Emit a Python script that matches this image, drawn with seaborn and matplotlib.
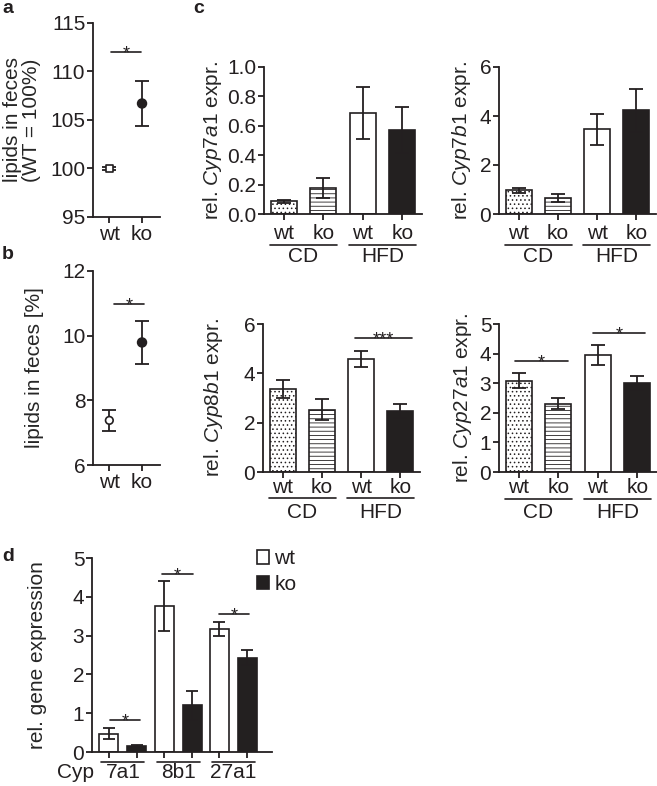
"""
Fecal lipids and Cyp gene expression, wt vs ko
"""

import pandas as pd
import seaborn as sns
import matplotlib.pyplot as plt
from matplotlib.lines import Line2D
from matplotlib.transforms import offset_copy

# a / b: fecal lipids
genotypes = ['wt', 'ko']
fecal_rel = [100.0, 106.7]
fecal_rel_err = [0.2, 2.35]
fecal_pct = [7.38, 9.79]
fecal_pct_err = [0.33, 0.67]

# c: expression per diet and genotype
conditions = ['CD wt', 'CD ko', 'HFD wt', 'HFD ko']
cond_ticklabels = ['wt', 'ko', 'wt', 'ko']
cyp7a1 = [0.086, 0.175, 0.688, 0.571]
cyp7a1_err = [0.012, 0.068, 0.176, 0.154]
cyp7b1 = [0.96, 0.64, 3.45, 4.24]
cyp7b1_err = [0.09, 0.17, 0.65, 0.88]
cyp8b1 = [3.35, 2.53, 4.57, 2.47]
cyp8b1_err = [0.36, 0.44, 0.32, 0.28]
cyp27a1 = [3.08, 2.31, 3.95, 3.0]
cyp27a1_err = [0.25, 0.18, 0.35, 0.24]

# d: gene expression
genes = ['7a1', '8b1', '27a1']
gene_wt = [0.47, 3.76, 3.16]
gene_wt_err = [0.14, 0.65, 0.18]
gene_ko = [0.155, 1.20, 2.43]
gene_ko_err = [0.035, 0.37, 0.19]

INK = '#231f20'
FS = 15
W, H = 657, 786

sns.set_style('ticks')
plt.rcParams['font.family'] = ['Liberation Sans', 'DejaVu Sans']
plt.rcParams['mathtext.fontset'] = 'custom'
plt.rcParams['mathtext.rm'] = 'Liberation Sans'
plt.rcParams['mathtext.it'] = 'Liberation Sans:italic'
plt.rcParams['hatch.linewidth'] = 0.6
plt.rcParams['axes.linewidth'] = 1.3
plt.rcParams['axes.edgecolor'] = INK
plt.rcParams['text.color'] = INK
plt.rcParams['xtick.color'] = INK
plt.rcParams['ytick.color'] = INK
plt.rcParams['xtick.major.width'] = 1.3
plt.rcParams['ytick.major.width'] = 1.3
plt.rcParams['xtick.major.size'] = 4
plt.rcParams['ytick.major.size'] = 4
plt.rcParams['ytick.major.pad'] = 1.5
plt.rcParams['xtick.labelsize'] = FS
plt.rcParams['ytick.labelsize'] = FS

fig = plt.figure(figsize=(W / 100, H / 100), dpi=100)


def add_axes(x0, x1, ytop, ybot):
    # pixel box -> figure fraction
    return fig.add_axes([x0 / W, 1 - ybot / H, (x1 - x0) / W, (ybot - ytop) / H])


def style(ax, ylabel, label_x):
    sns.despine(ax=ax)
    ax.set_xlabel('')
    ax.set_ylabel(ylabel, fontsize=FS, linespacing=1.05)
    ax.yaxis.set_label_coords(label_x, 0.5)
    ax.yaxis.label.set_va('center')


def sig(ax, x0, x1, y, text):
    ax.plot([x0, x1], [y, y], color=INK, lw=1.2, clip_on=False)
    ax.annotate(text, ((x0 + x1) / 2, y), xytext=(0, -4.5), textcoords='offset points',
                ha='center', va='baseline', fontsize=13)


def dot_panel(ax, vals, errs, wt_marker, wt_size, ylim, yticks, ylabel, label_x, sig_args):
    df = pd.DataFrame({'genotype': genotypes, 'value': vals})
    ax.errorbar(range(2), vals, yerr=errs, fmt='none', ecolor=INK,
                elinewidth=1.3, capsize=5, capthick=1.3, zorder=2)
    sns.scatterplot(data=df, x='genotype', y='value', hue='genotype', style='genotype',
                    size='genotype', sizes={'wt': wt_size, 'ko': 40},
                    palette={'wt': 'white', 'ko': INK}, markers={'wt': wt_marker, 'ko': 'o'},
                    edgecolor=INK, linewidth=1.2, legend=False, zorder=3, ax=ax)
    ax.set_xlim(-0.5, 1.55)
    ax.set_ylim(*ylim)
    ax.set_yticks(yticks)
    ax.set_xticks(range(2))
    ax.set_xticklabels(genotypes)
    ax.tick_params(axis='x', pad=1.5)
    style(ax, ylabel, label_x)
    sig(ax, *sig_args)


bar_fill = ['white', 'white', 'white', INK]
bar_hatch = ['....', '----', '', '']


def bar_panel(ax, vals, errs, ylim, yticks, gene, label_x, xpad, under):
    df = pd.DataFrame({'condition': conditions, 'value': vals})
    sns.barplot(data=df, x='condition', y='value', hue='condition', palette=bar_fill,
                width=0.66, edgecolor=INK, linewidth=1.2, errorbar=None, legend=False, ax=ax)
    for cont, h in zip(ax.containers, bar_hatch):
        for p in cont:
            p.set_hatch(h)
    ax.errorbar(range(4), vals, yerr=errs, fmt='none', ecolor=INK,
                elinewidth=1.3, capsize=5, capthick=1.3, zorder=5)
    ax.set_xlim(-0.5, 3.5)
    ax.set_ylim(*ylim)
    ax.set_yticks(yticks)
    ax.set_xticks(range(4))
    ax.set_xticklabels(cond_ticklabels)
    ax.tick_params(axis='x', pad=xpad)
    style(ax, rf'rel. $\mathit{{{gene}}}$ expr.', label_x)
    # diet group underline + name
    line_tr = offset_copy(ax.get_xaxis_transform(), fig=fig, y=-under[0], units='dots')
    text_tr = offset_copy(ax.get_xaxis_transform(), fig=fig, y=-under[1], units='dots')
    for (g0, g1), name in zip([(-0.35, 1.35), (1.65, 3.35)], ['CD', 'HFD']):
        ax.add_line(Line2D([g0, g1], [0, 0], transform=line_tr, color=INK, lw=1.2, clip_on=False))
        ax.text((g0 + g1) / 2, 0, name, transform=text_tr, ha='center', va='center', fontsize=FS)


# a
ax_a = add_axes(93, 160, 23, 217)
dot_panel(ax_a, fecal_rel, fecal_rel_err, 's', 22, (95, 115), [95, 100, 105, 110, 115],
          'lipids in feces\n(WT = 100%)', -1.06, (0.06, 0.97, 112.0, '*'))

# b
ax_b = add_axes(93, 160, 271, 465)
dot_panel(ax_b, fecal_pct, fecal_pct_err, 'o', 30, (6, 12), [6, 8, 10, 12],
          'lipids in feces [%]', -0.87, (0.15, 1.06, 10.97, '*'))

# c
ax_c1 = add_axes(264, 422, 67, 214)
bar_panel(ax_c1, cyp7a1, cyp7a1_err, (0, 1.0), [0, 0.2, 0.4, 0.6, 0.8, 1.0], 'Cyp7a1',
          -0.323, 3.5, (31, 43))
ax_c1.set_yticklabels(['0.0', '0.2', '0.4', '0.6', '0.8', '1.0'])

ax_c2 = add_axes(499, 656, 67, 214)
bar_panel(ax_c2, cyp7b1, cyp7b1_err, (0, 6), [0, 2, 4, 6], 'Cyp7b1', -0.236, 3.5, (31, 43))

ax_c3 = add_axes(263, 420, 324, 472)
bar_panel(ax_c3, cyp8b1, cyp8b1_err, (0, 6), [0, 2, 4, 6], 'Cyp8b1', -0.318, 0.5, (26, 40))
sig(ax_c3, 1.84, 3.29, 5.43, '***')

ax_c4 = add_axes(499, 657, 324, 472)
bar_panel(ax_c4, cyp27a1, cyp27a1_err, (0, 5), [0, 1, 2, 3, 4, 5], 'Cyp27a1', -0.23, 0.5, (27, 40))
sig(ax_c4, -0.1, 1.25, 3.75, '*')
sig(ax_c4, 1.88, 3.2, 4.70, '*')

# d
ax_d = add_axes(92, 272, 558, 752)
df_d = pd.DataFrame({'gene': genes * 2,
                     'genotype': ['wt'] * 3 + ['ko'] * 3,
                     'value': gene_wt + gene_ko})
sns.barplot(data=df_d, x='gene', y='value', hue='genotype', palette={'wt': 'white', 'ko': INK},
            width=1.01, gap=0.32, edgecolor=INK, linewidth=1.2, errorbar=None, ax=ax_d)
centers = []
for cont, errs in zip(ax_d.containers, [gene_wt_err, gene_ko_err]):
    xs = [p.get_x() + p.get_width() / 2 for p in cont]
    ys = [p.get_height() for p in cont]
    centers += xs
    ax_d.errorbar(xs, ys, yerr=errs, fmt='none', ecolor=INK,
                  elinewidth=1.3, capsize=4.5, capthick=1.3, zorder=5)
ax_d.set_xlim(-0.56, 2.7)
ax_d.set_ylim(0, 5)
ax_d.set_yticks(range(6))
ax_d.set_xticks(sorted(centers))
ax_d.set_xticklabels([])
style(ax_d, 'rel. gene expression', -0.30)
sns.move_legend(ax_d, 'upper left', bbox_to_anchor=(0.915, 1.045), frameon=False, title=None,
                handlelength=0.6, handleheight=0.6, handletextpad=0.25, labelspacing=0.3,
                borderpad=0, borderaxespad=0, fontsize=FS)
line_tr = offset_copy(ax_d.get_xaxis_transform(), fig=fig, y=-10, units='dots')
text_tr = offset_copy(ax_d.get_xaxis_transform(), fig=fig, y=-21, units='dots')
for i, g in enumerate(genes):
    ax_d.add_line(Line2D([i - 0.39, i + 0.39], [0, 0], transform=line_tr, color=INK, lw=1.2,
                         clip_on=False))
    ax_d.text(i, 0, g, transform=text_tr, ha='center', va='center', fontsize=FS)
ax_d.text(-0.85, 0, 'Cyp', transform=text_tr, ha='center', va='center', fontsize=FS)
sig(ax_d, -0.24, 0.31, 0.82, '*')
sig(ax_d, 0.71, 1.27, 4.58, '*')
sig(ax_d, 1.74, 2.28, 3.55, '*')

# panel letters
for letter, (px, py) in zip('abcd', [(2, 0), (2, 246), (193, 0), (2, 548)]):
    fig.text(px / W, 1 - py / H, letter, fontsize=14, fontweight='bold', va='top', ha='left')

plt.savefig('out.png', dpi=100)
